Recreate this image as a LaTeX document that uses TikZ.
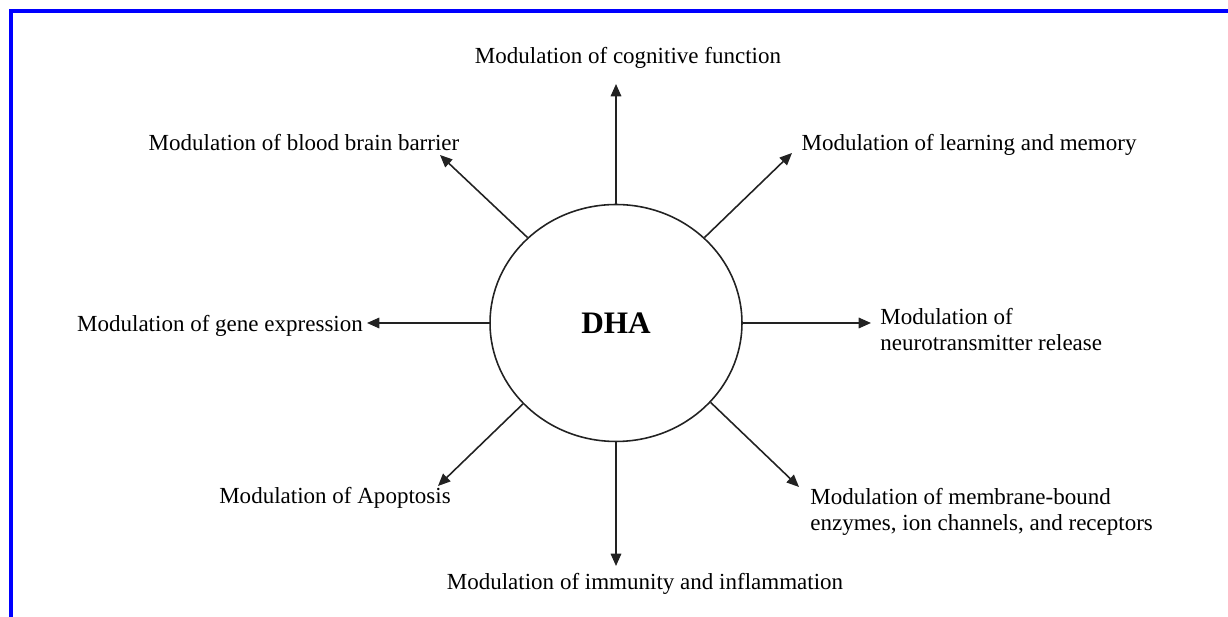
\documentclass[tikz,border=0pt]{standalone}
\usepackage{fontspec}
\setmainfont{Liberation Serif}
\usepackage{xcolor}
\definecolor{frameBlue}{HTML}{0000FF}
\definecolor{lineDark}{HTML}{222222}
\usetikzlibrary{shapes.geometric,arrows.meta}
\tikzset{
    core/.style={
        draw=lineDark,
        ellipse,
        minimum width=5.04cm,
        minimum height=4.74cm,
        line width=0.9pt,
        inner sep=0pt,
        font=\fontsize{17.8}{20}\selectfont\bfseries
    },
    effect/.style={
        font=\fontsize{13.1}{15.3}\selectfont,
        inner sep=0pt,
        text=black
    },
    arrow/.style={
        -{Triangle[length=7pt,width=6pt]},
        line width=0.9pt,
        color=lineDark
    }
}

\begin{document}
\begin{tikzpicture}[x=0.02cm,y=-0.02cm]
    \useasboundingbox (0,0) rectangle (1228,617);
    \draw[frameBlue, line width=2.3pt] (11,617) -- (11,11) -- (1228,11);

    \node[core] (dha) at (616,323) {DHA};

    % effects
    \node[effect, anchor=base] (cog) at (628,64) {Modulation of cognitive function};
    \node[effect, anchor=base] (bbb) at (304,151) {Modulation of blood brain barrier};
    \node[effect, anchor=base] (learn) at (969,151) {Modulation of learning and memory};
    \node[effect, anchor=base] (gene) at (220,332) {Modulation of gene expression};
    \node[effect, anchor=base west, align=left] (neuro) at (880,351) {Modulation of\\neurotransmitter release};
    \node[effect, anchor=base] (apop) at (335,504) {Modulation of Apoptosis};
    \node[effect, anchor=base west, align=left] (memb) at (810,531) {Modulation of membrane-bound\\enzymes, ion channels, and receptors};
    \node[effect, anchor=base] (immun) at (645,590) {Modulation of immunity and inflammation};

    % arrow tips
    \coordinate (tcog) at (616,84);
    \coordinate (tbbb) at (440,155);
    \coordinate (tlearn) at (792,153);
    \coordinate (tgene) at (367,323);
    \coordinate (tneuro) at (871,323);
    \coordinate (tapop) at (438,486);
    \coordinate (tmemb) at (799,487);
    \coordinate (timmun) at (616,566);

    \draw[arrow] (dha.north) -- (tcog);
    \draw[arrow] (dha.136) -- (tbbb);
    \draw[arrow] (dha.44) -- (tlearn);
    \draw[arrow] (dha.west) -- (tgene);
    \draw[arrow] (dha.east) -- (tneuro);
    \draw[arrow] (dha.221) -- (tapop);
    \draw[arrow] (dha.320) -- (tmemb);
    \draw[arrow] (dha.south) -- (timmun);
\end{tikzpicture}
\end{document}
